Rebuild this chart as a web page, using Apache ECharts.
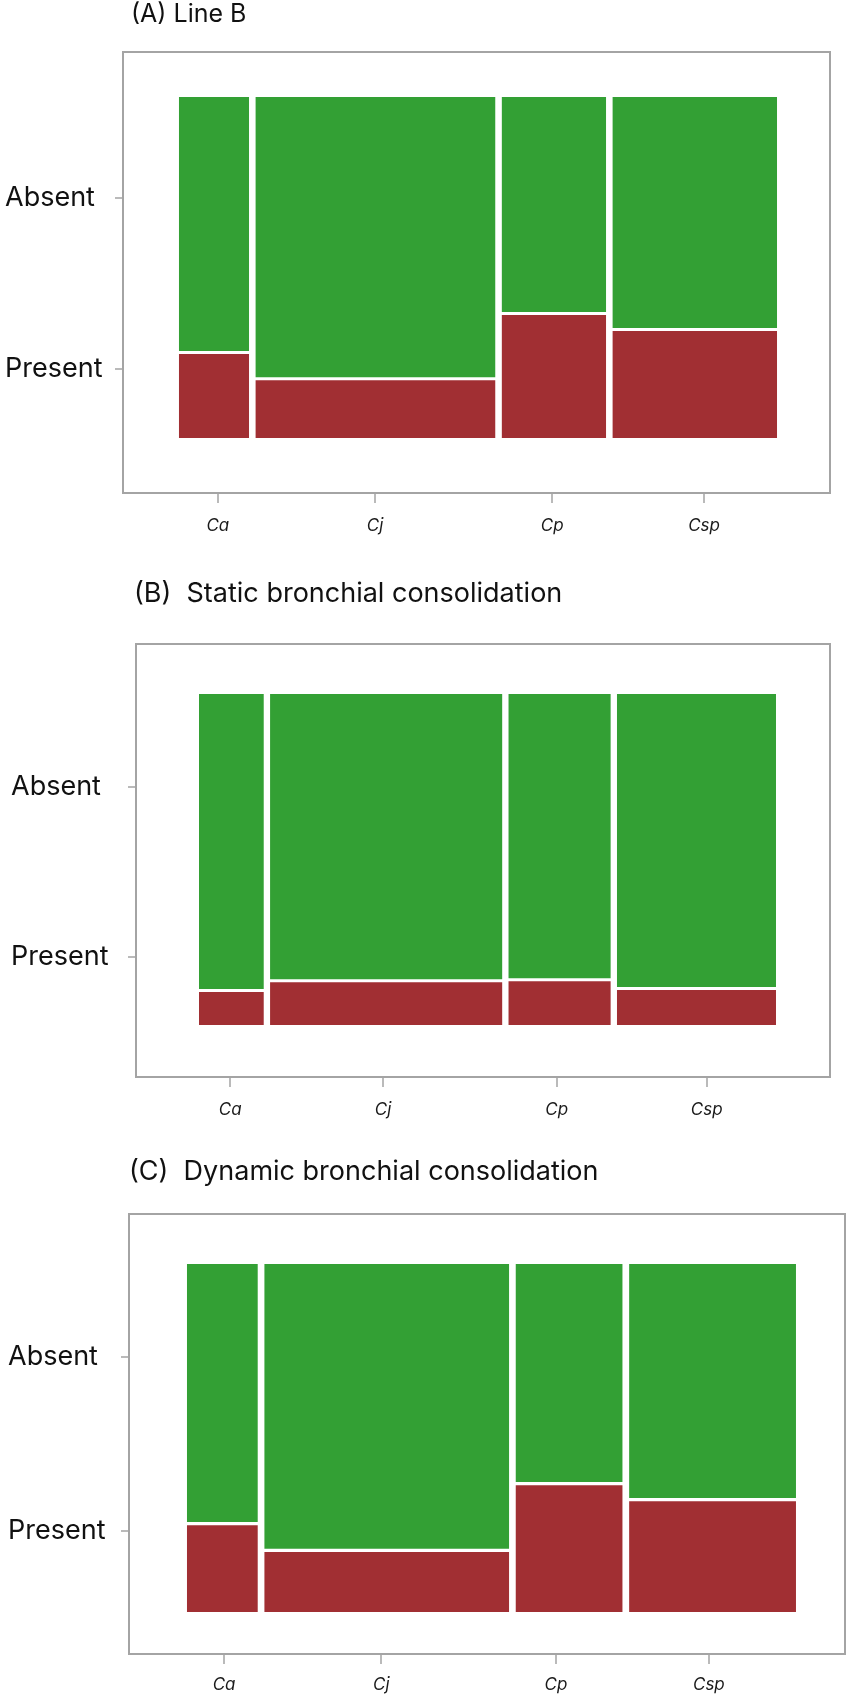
<!DOCTYPE html>
<html>
<head>
<meta charset="utf-8">
<script src="https://cdn.jsdelivr.net/npm/echarts@6/dist/echarts.min.js"></script>
<style>
  html, body { margin: 0; padding: 0; background: #fff; }
  #chart { width: 850px; height: 1700px; }
</style>
</head>
<body>
<div id="chart"></div>
<script>
  var categories = ['Ca', 'Cj', 'Cp', 'Csp'];
  var levels = ['Absent', 'Present'];
  var panelTitles = [
    '(A) Line B',
    '(B)  Static bronchial consolidation',
    '(C)  Dynamic bronchial consolidation'
  ];

  // column widths: share of cases per category
  var widthsA = [0.121, 0.414, 0.180, 0.284];
  var widthsB = [0.116, 0.416, 0.183, 0.285];
  var widthsC = [0.120, 0.415, 0.181, 0.283];

  // share of "Present" inside each category
  var presentA = [0.251, 0.174, 0.365, 0.318];
  var presentB = [0.104, 0.134, 0.137, 0.110];
  var presentC = [0.254, 0.177, 0.369, 0.323];

  // tick label positions (0..1 across / up the tiles)
  var xTicksA = [0.065, 0.328, 0.624, 0.878];
  var xTicksB = [0.054, 0.319, 0.620, 0.880];
  var xTicksC = [0.061, 0.319, 0.606, 0.857];
  var yTicksA = [0.704, 0.202];
  var yTicksB = [0.719, 0.205];
  var yTicksC = [0.733, 0.233];

  var GREEN = '#33a034';
  var RED = '#a12f33';
  var GRAY = '#a4a4a4';
  var FONT = 'Inter, "Liberation Sans", Arial, sans-serif';

  var panels = [
    { widths: widthsA, present: presentA, xTicks: xTicksA, yTicks: yTicksA,
      left: 123, top: 52, width: 707, height: 441,
      xMin: -0.0936, xMax: 1.0886, yMin: -0.1613, yMax: 1.132,
      titleLeft: 131, titleTop: 2, titleSize: 25, yMargin: 118, xMargin: 24 },
    { widths: widthsB, present: presentB, xTicks: xTicksB, yTicks: yTicksB,
      left: 136, top: 644, width: 694, height: 433,
      xMin: -0.1092, xMax: 1.0936, yMin: -0.157, yMax: 1.151,
      titleLeft: 134, titleTop: 580, titleSize: 27, yMargin: 125, xMargin: 24 },
    { widths: widthsC, present: presentC, xTicks: xTicksC, yTicks: yTicksC,
      left: 129, top: 1214, width: 716, height: 440,
      xMin: -0.0952, xMax: 1.0805, yMin: -0.1207, yMax: 1.1437,
      titleLeft: 129, titleTop: 1158, titleSize: 27, yMargin: 121, xMargin: 22 }
  ];

  var GAP_X = 0.011;   // white gap between columns
  var GAP_Y = 0.009;   // white gap between Absent / Present

  // build tiles: [x0, x1, y0, y1, isPresent]
  function buildTiles(widths, present) {
    var total = widths.reduce(function (a, b) { return a + b; }, 0);
    var usable = 1 - GAP_X * (widths.length - 1);
    var x = 0;
    var tiles = [];
    widths.forEach(function (w, i) {
      var x1 = x + usable * w / total;
      tiles.push([x, x1, 0, present[i] - GAP_Y / 2, 1]);
      tiles.push([x, x1, present[i] + GAP_Y / 2, 1, 0]);
      x = x1 + GAP_X;
    });
    return tiles;
  }

  function nearestLabel(list, names, v) {
    var best = 0;
    list.forEach(function (t, i) {
      if (Math.abs(t - v) < Math.abs(list[best] - v)) best = i;
    });
    return names[best];
  }

  var option = {
    animation: false,
    backgroundColor: '#fff',
    title: [], grid: [], xAxis: [], yAxis: [], series: []
  };

  panels.forEach(function (p, k) {
    option.title.push({
      text: panelTitles[k],
      left: p.titleLeft,
      top: p.titleTop,
      padding: 0,
      textStyle: { fontFamily: FONT, fontWeight: 'normal', fontSize: p.titleSize, color: '#111' }
    });
    option.grid.push({
      left: p.left, top: p.top, width: p.width, height: p.height,
      show: true, borderColor: GRAY, borderWidth: 2, backgroundColor: '#fff',
      containLabel: false, outerBoundsMode: 'none'
    });
    option.xAxis.push({
      type: 'value', gridIndex: k, min: p.xMin, max: p.xMax,
      axisLine: { show: false, onZero: false },
      splitLine: { show: false },
      axisTick: { show: true, customValues: p.xTicks, length: 10, lineStyle: { color: GRAY, width: 1.5 } },
      axisLabel: {
        customValues: p.xTicks, margin: p.xMargin,
        fontFamily: FONT, fontStyle: 'italic', fontSize: 17, color: '#1a1a1a',
        formatter: function (v) { return nearestLabel(p.xTicks, categories, v); }
      }
    });
    option.yAxis.push({
      type: 'value', gridIndex: k, min: p.yMin, max: p.yMax,
      axisLine: { show: false, onZero: false },
      splitLine: { show: false },
      axisTick: { show: true, customValues: p.yTicks, length: 8, lineStyle: { color: GRAY, width: 1.5 } },
      axisLabel: {
        customValues: p.yTicks, margin: p.yMargin, align: 'left',
        fontFamily: FONT, fontSize: 27, color: '#111',
        formatter: function (v) { return nearestLabel(p.yTicks, levels, v); }
      }
    });
    option.series.push({
      type: 'custom',
      xAxisIndex: k, yAxisIndex: k,
      encode: { x: [0, 1], y: [2, 3] },
      data: buildTiles(p.widths, p.present),
      renderItem: function (params, api) {
        var a = api.coord([api.value(0), api.value(3)]);
        var b = api.coord([api.value(1), api.value(2)]);
        return {
          type: 'rect',
          shape: { x: a[0], y: a[1], width: b[0] - a[0], height: b[1] - a[1] },
          style: { fill: api.value(4) ? RED : GREEN }
        };
      }
    });
  });

  var chart = echarts.init(document.getElementById('chart'), null, { renderer: 'canvas' });
  chart.setOption(option);
</script>
</body>
</html>
